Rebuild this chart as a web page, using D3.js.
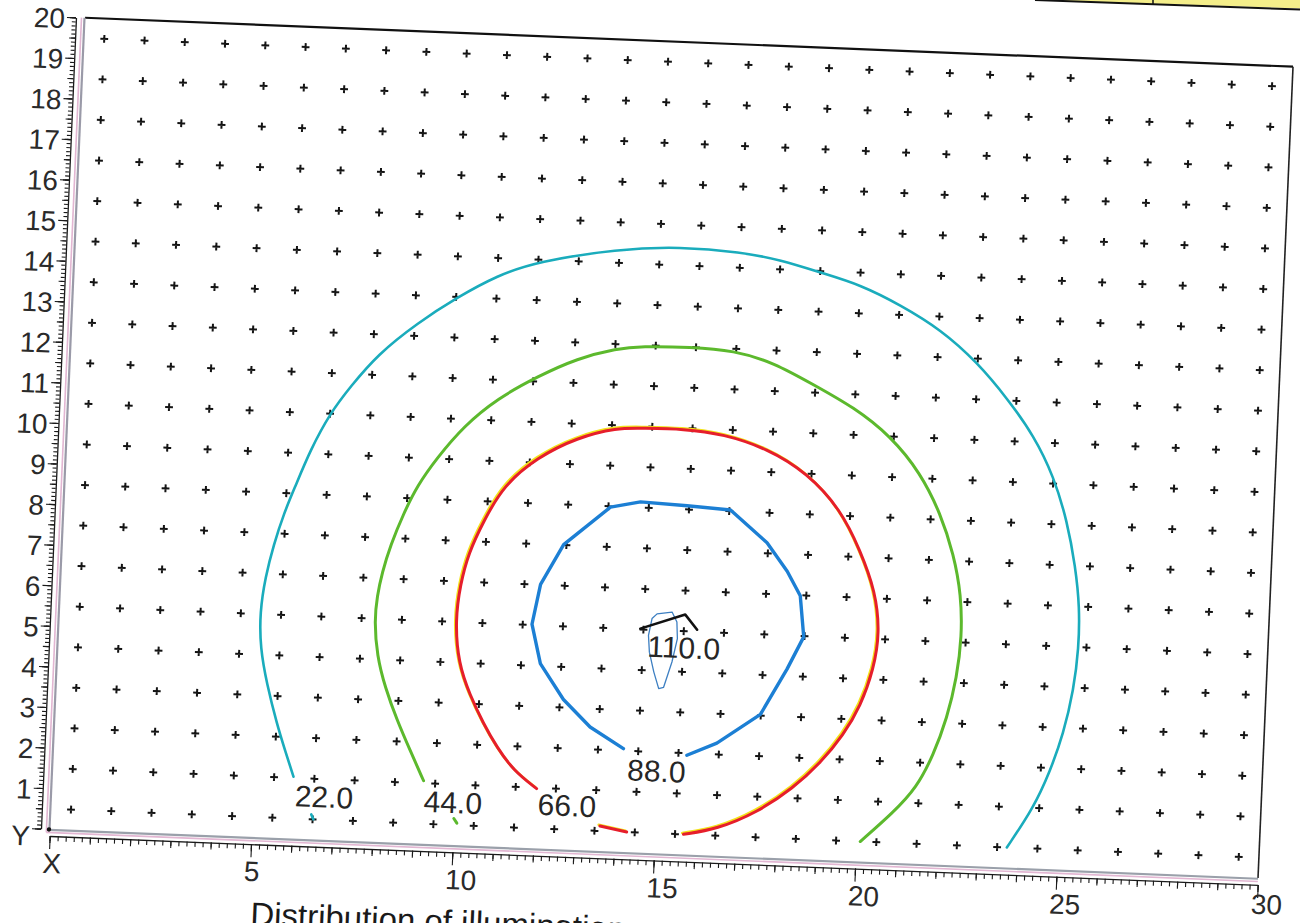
<!DOCTYPE html>
<html>
<head>
<meta charset="utf-8">
<script src="https://cdn.jsdelivr.net/npm/d3@7"></script>
<style>
  html, body { margin: 0; padding: 0; background: #ffffff; overflow: hidden; }
  svg { display: block; font-family: "Liberation Sans", Arial, sans-serif; }
</style>
</head>
<body>
<svg id="chart" width="1300" height="923"></svg>
<script>
// Calculation grid (points where illuminance was computed), in metres
const gridX = [0.5, 1.5, 2.5, 3.5, 4.5, 5.5, 6.5, 7.5, 8.5, 9.5, 10.5, 11.5, 12.5, 13.5, 14.5,
               15.5, 16.5, 17.5, 18.5, 19.5, 20.5, 21.5, 22.5, 23.5, 24.5, 25.5, 26.5, 27.5, 28.5, 29.5];
const gridY = [0.5, 1.5, 2.5, 3.5, 4.5, 5.5, 6.5, 7.5, 8.5, 9.5, 10.5, 11.5, 12.5, 13.5, 14.5,
               15.5, 16.5, 17.5, 18.5, 19.5];

// Axis tick labels
const xTickValues = [0, 5, 10, 15, 20, 25, 30];
const xTickText   = ["X", "5", "10", "15", "20", "25", "30"];
const yTickValues = [0, 1, 2, 3, 4, 5, 6, 7, 8, 9, 10, 11, 12, 13, 14, 15, 16, 17, 18, 19, 20];
const yTickText   = ["Y", "1", "2", "3", "4", "5", "6", "7", "8", "9", "10", "11", "12", "13", "14",
                     "15", "16", "17", "18", "19", "20"];

// Isolux levels (lx) and where their labels sit
const levels      = [22, 44, 66, 88, 110];
const levelText   = ["22.0", "44.0", "66.0", "88.0", "110.0"];
const levelLabelX = [6.76, 9.96, 12.79, 14.97, 15.52];
const levelLabelY = [1.07, 1.06, 1.10, 2.04, 5.10];

// Isolux lines, [x, y] in metres
const iso22 = [
  [[5.98,1.53],[5.75,2.15],[5.51,2.82],[5.22,3.79],[5.02,4.66],[4.97,5.54],[5.07,6.42],[5.24,7.21],
   [5.46,8.00],[5.72,8.69],[6.05,9.59],[6.51,10.53],[6.98,11.19],[7.61,12.00],[8.57,12.82],[9.53,13.49],
   [10.50,14.07],[11.48,14.45],[13.45,14.84],[15.00,14.96],[16.51,14.89],[17.51,14.73],
   [18.51,14.46],[19.52,14.20],[20.53,13.74],[21.55,13.18],[22.49,12.41],[23.28,11.54],[23.97,10.66],
   [24.51,9.67],[24.89,8.58],[25.14,7.48],[25.29,6.48],[25.31,5.47],[25.23,4.46],[25.02,3.34],
   [24.73,2.42],[24.36,1.50],[23.74,0.50]],
  [[6.46,0.62],[6.52,0.50]]
];
const iso44 = [
  [[9.21,1.56],[8.85,2.28],[8.48,3.04],[8.16,3.81],[7.92,4.59],[7.82,5.46],[7.86,6.05],[7.96,6.64],
   [8.14,7.33],[8.43,8.12],[8.74,8.82],[9.20,9.52],[9.83,10.33],[10.63,11.04],[11.60,11.62],[12.57,12.11],
   [13.55,12.39],[14.13,12.47],[15.37,12.50],[16.44,12.46],[17.45,12.20],[18.46,11.69],[19.48,11.18],
   [20.42,10.51],[21.20,9.63],[21.74,8.65],[22.11,7.66],[22.34,6.66],[22.40,5.65],[22.32,4.64],
   [22.12,3.62],[21.82,2.70],[21.44,1.88],[20.89,1.25],[20.10,0.50]],
  [[10.00,0.66],[10.08,0.55]]
];
const iso66 = [
  [[12.02,1.48],[11.43,1.90],[10.99,2.46],[10.63,3.03],[10.27,3.71],[9.95,4.47],[9.82,5.54],[9.91,6.43],
   [10.08,7.21],[10.42,8.01],[10.88,8.91],[11.68,9.63],[12.65,10.16],[13.64,10.44],[14.21,10.45],
   [15.29,10.48],[16.28,10.39],[17.37,10.08],[18.39,9.52],[19.26,8.65],[19.79,7.66],[20.21,6.67],
   [20.36,5.66],[20.25,4.76],[19.96,3.83],[19.57,3.11],[19.02,2.38],[18.38,1.75],[17.51,1.11],
   [16.53,0.66],[15.71,0.50]],
  [[13.63,0.62],[14.30,0.50]]
];
const iso88 = [
  [[14.13,2.55],[13.28,3.05],[12.59,3.70],[11.98,4.56],[11.73,5.52],[11.90,6.51],[12.43,7.51],[13.55,8.48],
   [14.29,8.64],[15.45,8.59],[16.53,8.53],[17.47,7.76],[18.00,7.08],[18.35,6.49],[18.48,5.48],[18.10,4.67],
   [17.49,3.53],[16.44,2.78],[15.71,2.45]]
];
const iso110 = [
  [[14.82,5.90],[15.19,5.96],[15.32,5.72],[15.35,5.31],[15.24,4.73],[15.06,4.10],[14.94,4.06],[14.80,4.47],
   [14.67,4.95],[14.63,5.36],[14.70,5.78],[14.82,5.90]]
];
// Luminaire symbol at the peak
const luminaire = [[14.42,5.52],[15.52,5.91],[15.83,5.55]];

const isoLines   = [iso22, iso44, iso66, iso88, iso110];
const isoColors  = ["#1aacbc", "#5cb92d", "#e61e2b", "#1c7fd4", "#3d7fc2"];
const isoWidths  = [2.6, 3.0, 3.0, 3.4, 1.3];
const isoSmooth  = [true, true, true, false, false];

const svg = d3.select("#chart");

// Header strip from the page above the chart
svg.append("polygon")
  .attr("points", "1062,0 1300,0 1300,8.5 1062,0.8")
  .attr("fill", "#f4ee8a");
svg.append("line")
  .attr("x1", 1035).attr("y1", 0).attr("x2", 1300).attr("y2", 9.5)
  .attr("stroke", "#111").attr("stroke-width", 2);
svg.append("line")
  .attr("x1", 1153).attr("y1", 0).attr("x2", 1153).attr("y2", 4.5)
  .attr("stroke", "#111").attr("stroke-width", 1.5);

// Plot frame: the sheet sits slightly tilted on the page
const W = 1209, H = 812;
const g = svg.append("g")
  .attr("transform", "matrix(0.99918,0.04048,-0.0431,0.99907,50,829)");

const x = d3.scaleLinear().domain([0, 30]).range([0, W]);
const y = d3.scaleLinear().domain([0, 20]).range([0, -H]);

// Frame: top and right edges black, left and bottom edges drawn as grey double rule
g.append("line").attr("x1", 0).attr("y1", -H).attr("x2", W).attr("y2", -H)
  .attr("stroke", "#111").attr("stroke-width", 2.2);
g.append("line").attr("x1", W).attr("y1", -H).attr("x2", W).attr("y2", 0)
  .attr("stroke", "#222").attr("stroke-width", 1.6);
g.append("line").attr("x1", -3.5).attr("y1", -H).attr("x2", -3.5).attr("y2", 3.5)
  .attr("stroke", "#e2b6d2").attr("stroke-width", 1.6);
g.append("line").attr("x1", -0.5).attr("y1", -H).attr("x2", -0.5).attr("y2", 0.5)
  .attr("stroke", "#9a9aa8").attr("stroke-width", 2.2);
g.append("line").attr("x1", -3.5).attr("y1", 3.5).attr("x2", W).attr("y2", 3.5)
  .attr("stroke", "#e2b6d2").attr("stroke-width", 1.6);
g.append("line").attr("x1", -0.5).attr("y1", 0.8).attr("x2", W).attr("y2", 0.8)
  .attr("stroke", "#9aa0aa").attr("stroke-width", 2.2);
g.append("circle").attr("cx", -1).attr("cy", 0.5).attr("r", 2.2).attr("fill", "#111");

// Y axis: spine with 0.1 / 0.5 / 1 m ticks
const yAxisG = g.append("g").attr("transform", "translate(-9,0)");
const yMinor = d3.range(0, 200.5, 1).map(i => i / 10);
const yHalf = d3.range(0, 40.5, 1).map(i => i / 2);
[[yMinor, 4], [yHalf, 6], [yTickValues, 9]].forEach(([vals, len], i) => {
  const ax = yAxisG.append("g")
    .call(d3.axisLeft(y).tickValues(vals).tickSize(len).tickSizeOuter(0).tickFormat(""));
  if (i > 0) ax.select(".domain").remove();
  ax.selectAll("line").attr("stroke", "#1a1a1a").attr("stroke-width", 1.1);
  ax.select(".domain").attr("stroke", "#1a1a1a").attr("stroke-width", 1.3);
});
g.append("g").selectAll("text")
  .data(yTickValues)
  .join("text")
  .attr("x", -20)
  .attr("y", d => y(d))
  .attr("dy", d => d === 0 ? "0.62em" : "0.4em")
  .attr("text-anchor", "end")
  .attr("font-size", 28)
  .attr("fill", "#2a2a2a")
  .text((d, i) => yTickText[i]);

// X axis: spine with 0.2 / 1 / 5 m ticks
const xAxisG = g.append("g").attr("transform", "translate(0,7)");
const xMinor = d3.range(0, 150.5, 1).map(i => i / 5);
const xUnit = d3.range(0, 31, 1);
[[xMinor, 5], [xUnit, 7], [xTickValues, 13]].forEach(([vals, len], i) => {
  const ax = xAxisG.append("g")
    .call(d3.axisBottom(x).tickValues(vals).tickSize(len).tickSizeOuter(0).tickFormat(""));
  if (i > 0) ax.select(".domain").remove();
  ax.selectAll("line").attr("stroke", "#1a1a1a").attr("stroke-width", 1.1);
  ax.select(".domain").attr("stroke", "#1a1a1a").attr("stroke-width", 1.3);
});
g.append("g").selectAll("text")
  .data(xTickValues)
  .join("text")
  .attr("x", d => x(d) - 6)
  .attr("y", d => d === 30 ? 36 : 44)
  .attr("text-anchor", "start")
  .attr("font-size", 28)
  .attr("fill", "#2a2a2a")
  .text((d, i) => xTickText[i]);

// Axis title (runs off the bottom of the sheet)
g.append("text")
  .attr("x", x(5.06))
  .attr("y", 88)
  .attr("font-size", 33)
  .attr("fill", "#1a1a1a")
  .text("Distribution of illumination");

// Grid point markers
const cross = "M-3.9,0H3.9M0,-3.9V3.9";
const pts = [];
gridY.forEach(gy => gridX.forEach(gx => pts.push([gx, gy])));
g.append("g").selectAll("path")
  .data(pts)
  .join("path")
  .attr("d", cross)
  .attr("transform", d => `translate(${x(d[0])},${y(d[1])})`)
  .attr("stroke", "#141414")
  .attr("stroke-width", 2)
  .attr("fill", "none");

// Isolux lines
const smoothLine = d3.line().x(d => x(d[0])).y(d => y(d[1])).curve(d3.curveBasis);
const straightLine = d3.line().x(d => x(d[0])).y(d => y(d[1]));
const isoG = g.append("g").attr("fill", "none").attr("stroke-linecap", "round").attr("stroke-linejoin", "round");
isoLines.forEach((pieces, i) => {
  const gen = isoSmooth[i] ? smoothLine : straightLine;
  if (levels[i] === 66) {
    // yellow fringe printed just off the red line
    isoG.append("g").attr("transform", "translate(-1.3,-1.3)")
      .selectAll("path").data(pieces).join("path")
      .attr("d", gen).attr("stroke", "#f2e21c").attr("stroke-width", 2.6);
  }
  isoG.append("g").selectAll("path").data(pieces).join("path")
    .attr("d", gen)
    .attr("stroke", isoColors[i])
    .attr("stroke-width", isoWidths[i]);
});
isoG.append("path")
  .datum(luminaire)
  .attr("d", straightLine)
  .attr("stroke", "#111")
  .attr("stroke-width", 2.6);

// Level labels
g.append("g").selectAll("text")
  .data(levels)
  .join("text")
  .attr("x", (d, i) => x(levelLabelX[i]))
  .attr("y", (d, i) => y(levelLabelY[i]))
  .attr("dy", "0.36em")
  .attr("text-anchor", "middle")
  .attr("font-size", 30)
  .attr("fill", "#262626")
  .text((d, i) => levelText[i]);
</script>
</body>
</html>
